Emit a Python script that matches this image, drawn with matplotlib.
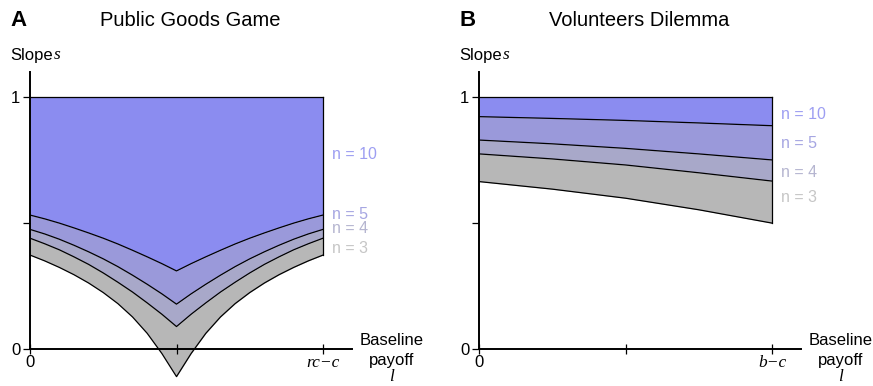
import matplotlib
matplotlib.use("Agg")
import matplotlib.pyplot as plt

# ---------------- data ----------------
# Panel A: Public Goods Game (x in units of rc-c)
pg_x = [0.0, 0.05, 0.1, 0.15, 0.2, 0.25, 0.3, 0.35, 0.4, 0.45, 0.5,
        0.55, 0.6, 0.65, 0.7, 0.75, 0.8, 0.85, 0.9, 0.95, 1.0]
pg_n10 = [0.532, 0.517, 0.500, 0.481, 0.461, 0.440, 0.417, 0.392, 0.366, 0.339, 0.310,
          0.339, 0.366, 0.392, 0.417, 0.440, 0.461, 0.481, 0.500, 0.517, 0.532]
pg_n5 = [0.475, 0.457, 0.436, 0.412, 0.386, 0.358, 0.327, 0.293, 0.257, 0.219, 0.178,
         0.219, 0.257, 0.293, 0.327, 0.358, 0.386, 0.412, 0.436, 0.457, 0.475]
pg_n4 = [0.440, 0.418, 0.394, 0.366, 0.336, 0.302, 0.265, 0.226, 0.183, 0.138, 0.089,
         0.138, 0.183, 0.226, 0.265, 0.302, 0.336, 0.366, 0.394, 0.418, 0.440]
pg_n3 = [0.373, 0.350, 0.324, 0.295, 0.262, 0.224, 0.180, 0.127, 0.062, -0.018, -0.110,
         -0.018, 0.062, 0.127, 0.180, 0.224, 0.262, 0.295, 0.324, 0.350, 0.373]

# Panel B: Volunteers Dilemma (x in units of b-c)
vd_x = [0.0, 0.25, 0.5, 0.75, 1.0]
vd_n10 = [0.923, 0.916, 0.908, 0.898, 0.887]
vd_n5 = [0.830, 0.815, 0.797, 0.775, 0.751]
vd_n4 = [0.775, 0.755, 0.731, 0.700, 0.667]
vd_n3 = [0.665, 0.635, 0.599, 0.553, 0.500]

group_labels = ["n = 10", "n = 5", "n = 4", "n = 3"]
pg_label_y = [0.771, 0.536, 0.477, 0.401]
vd_label_y = [0.930, 0.818, 0.703, 0.600]

fill_colors = ["#8b8cf0", "#9a99da", "#a8a8c9", "#b7b7b7"]
text_colors = ["#9d9ef2", "#a6a6e2", "#b5b5d0", "#c6c6c6"]

SANS = "Liberation Sans"
SERIF = "Liberation Serif"

fig = plt.figure(figsize=(8.73, 3.86), dpi=100)

def panel(left, letter, title, x, curves, label_y, xtick_label):
    ax = fig.add_axes([left, 0.0047, 0.3692, 0.8085])
    ax.set_xlim(0, 1.1)
    ax.set_ylim(-0.14, 1.1)
    ax.patch.set_alpha(0)
    lw = 0.9
    bounds = [[1.0] * len(x)] + curves
    for i in range(4):
        ax.fill_between(x, curves[i], bounds[i], color=fill_colors[i], lw=0, zorder=1)
    for c in curves:
        ax.plot(x, c, color="black", lw=lw, zorder=2)
    ax.plot([0, 1], [1, 1], color="black", lw=lw, zorder=2)
    ax.plot([1, 1], [curves[-1][-1], 1], color="black", lw=lw, zorder=2)

    for s in ["top", "right"]:
        ax.spines[s].set_visible(False)
    ax.spines["left"].set_bounds(0, 1.1)
    ax.spines["bottom"].set_position(("data", 0))
    ax.spines["bottom"].set_bounds(0, 1.1)
    ax.spines["left"].set_linewidth(1.4)
    ax.spines["bottom"].set_linewidth(1.4)
    ax.spines["left"].set_zorder(3)
    ax.spines["bottom"].set_zorder(3)

    ax.set_yticks([0, 0.5, 1])
    ax.set_yticklabels(["0", "", "1"], fontfamily=SANS, fontsize=12)
    ax.set_xticks([0, 0.5, 1])
    ax.set_xticklabels(["0", "", xtick_label], fontsize=12)
    xl = ax.get_xticklabels()
    xl[0].set_fontfamily(SANS)
    xl[2].set_fontfamily(SERIF)
    xl[2].set_fontstyle("italic")
    xl[2].set_fontsize(12.5)
    ax.tick_params(axis="x", direction="inout", length=7, width=0.9, pad=1)
    ax.tick_params(axis="y", direction="out", length=5, width=0.9, pad=2)

    for lab, yy, col in zip(group_labels, label_y, text_colors):
        ax.text(1.03, yy, lab, color=col, fontfamily=SANS, fontsize=11.5,
                va="center", ha="left")

    t = ax.text(-0.068, 1.164, "Slope", fontfamily=SANS, fontsize=12,
                va="center", ha="left")
    ax.annotate("s", xy=(1, 0), xycoords=t, xytext=(1, 0), textcoords="offset points",
                fontfamily=SERIF, fontstyle="italic", fontsize=12.5, va="bottom", ha="left")

    ax.text(-0.068, 1.307, letter, fontfamily=SANS, fontweight="bold", fontsize=16,
            va="center", ha="left")
    ax.text(0.239, 1.307, title, fontfamily=SANS, fontsize=14.5, va="center", ha="left")

    ax.text(1.233, 0.032, "Baseline", fontfamily=SANS, fontsize=12, va="center", ha="center")
    ax.text(1.233, -0.045, "payoff", fontfamily=SANS, fontsize=12, va="center", ha="center")
    ax.text(1.233, -0.111, "l", fontfamily=SERIF, fontstyle="italic", fontsize=12.5,
            va="center", ha="center")
    return ax

panel(30 / 873, "A", "Public Goods Game", pg_x,
      [pg_n10, pg_n5, pg_n4, pg_n3], pg_label_y, "rc\u2212c")
panel(479 / 873, "B", "Volunteers Dilemma", vd_x,
      [vd_n10, vd_n5, vd_n4, vd_n3], vd_label_y, "b\u2212c")

fig.savefig("out.png", dpi=100)
